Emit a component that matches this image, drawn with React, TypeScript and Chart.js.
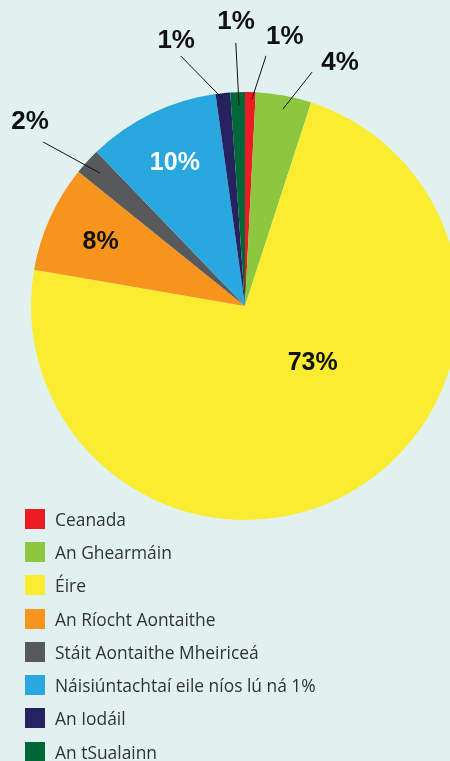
import React, { useEffect, useRef } from "react";
import { Chart, registerables } from "chart.js";

Chart.register(...registerables);

const categories = [
  "Ceanada",
  "An Ghearmáin",
  "Éire",
  "An Ríocht Aontaithe",
  "Stáit Aontaithe Mheiriceá",
  "Náisiúntachtaí eile níos lú ná 1%",
  "An Iodáil",
  "An tSualainn",
];
const shares = [0.8, 4.2, 72.7, 8.1, 2.0, 10.0, 1.1, 1.1];
const valueLabels = ["1%", "4%", "73%", "8%", "2%", "10%", "1%", "1%"];
const sliceColors = ["#ED1C24", "#8DC63F", "#F9EC31", "#F7941D", "#58595B", "#29A8E0", "#262262", "#006838"];
const labelTextColors = ["#111", "#111", "#111", "#111", "#111", "#FFFFFF", "#111", "#111"];

// label placement in polar terms (bearing in degrees clockwise from top, radius as fraction of pie radius)
type Place =
  | { kind: "mid"; r: number }
  | { kind: "fixed"; a: number; r: number }
  | { kind: "leader"; a: number; r: number; fa: number; fr: number; ta: number; tr: number };
const placements: Place[] = [
  { kind: "leader", a: 8.4, r: 1.276, fa: 4.8, fr: 1.173, ta: 1.9, tr: 0.967 },
  { kind: "leader", a: 21.3, r: 1.224, fa: 16.0, fr: 1.137, ta: 10.9, tr: 0.937 },
  { kind: "fixed", a: 129.5, r: 0.41 },
  { kind: "mid", r: 0.74 },
  { kind: "leader", a: 310.7, r: 1.325, fa: 309.1, fr: 1.215, ta: 312.5, tr: 0.919 },
  { kind: "mid", r: 0.75 },
  { kind: "leader", a: 345.5, r: 1.284, fa: 345.6, fr: 1.206, ta: 353.9, tr: 0.973 },
  { kind: "leader", a: 358.2, r: 1.332, fa: 358.0, fr: 1.23, ta: 358.3, tr: 0.94 },
];

const BG = "#E1F1F0";

const labelPlugin = {
  id: "sliceLabels",
  afterDatasetsDraw(chart: any) {
    const ctx = chart.ctx as CanvasRenderingContext2D;
    const meta = chart.getDatasetMeta(0);
    meta.data.forEach((arc: any, i: number) => {
      const { x, y, outerRadius, startAngle, endAngle } = arc.getProps(
        ["x", "y", "outerRadius", "startAngle", "endAngle"],
        true
      );
      const R = outerRadius;
      const pt = (bearingDeg: number, f: number) => {
        const a = ((bearingDeg - 90) * Math.PI) / 180;
        return [x + Math.cos(a) * R * f, y + Math.sin(a) * R * f];
      };
      const p = placements[i];
      let tx = 0, ty = 0;
      ctx.save();
      if (p.kind === "mid") {
        const a = (startAngle + endAngle) / 2;
        tx = x + Math.cos(a) * R * p.r;
        ty = y + Math.sin(a) * R * p.r;
      } else if (p.kind === "fixed") {
        [tx, ty] = pt(p.a, p.r);
      } else {
        [tx, ty] = pt(p.a, p.r);
        const [fx, fy] = pt(p.fa, p.fr);
        const [ex, ey] = pt(p.ta, p.tr);
        ctx.strokeStyle = "#111";
        ctx.lineWidth = 1;
        ctx.beginPath();
        ctx.moveTo(fx, fy);
        ctx.lineTo(ex, ey);
        ctx.stroke();
      }
      const size = p.kind === "leader" ? 26 : 25;
      ctx.font = `bold ${size}px "Liberation Sans", Arial, sans-serif`;
      ctx.fillStyle = labelTextColors[i];
      ctx.textAlign = "center";
      ctx.textBaseline = "middle";
      ctx.fillText(valueLabels[i], tx, ty + 1);
      ctx.restore();
    });
  },
};

export default function App() {
  const ref = useRef<HTMLCanvasElement | null>(null);
  useEffect(() => {
    document.body.style.margin = "0";
    document.body.style.background = BG;
    if (!ref.current) return;
    const chart = new Chart(ref.current, {
      type: "pie",
      data: {
        labels: categories,
        datasets: [
          {
            data: shares,
            backgroundColor: sliceColors,
            borderWidth: 0,
          },
        ],
      },
      options: {
        responsive: false,
        animation: false,
        layout: { padding: { top: 92, left: 31, right: 31, bottom: 241 } },
        plugins: {
          legend: { display: false },
          tooltip: { enabled: false },
        },
      },
      plugins: [labelPlugin],
    });
    return () => chart.destroy();
  }, []);

  return (
    <div
      style={{
        position: "relative",
        width: 450,
        height: 761,
        overflow: "hidden",
        background: BG,
      }}
    >
      <canvas ref={ref} width={490} height={761} style={{ position: "absolute", left: 0, top: 0 }} />
      <div style={{ position: "absolute", left: 25, top: 502 }}>
        {categories.map((c, i) => (
          <div
            key={c}
            style={{
              display: "flex",
              alignItems: "center",
              height: 33.3,
              fontFamily: '"Open Sans", "Noto Sans", sans-serif',
              fontSize: 17.4,
              color: "#333",
              whiteSpace: "nowrap",
            }}
          >
            <span
              style={{
                display: "inline-block",
                width: 20,
                height: 20,
                background: sliceColors[i],
                marginRight: 10,
                flexShrink: 0,
              }}
            />
            {c}
          </div>
        ))}
      </div>
    </div>
  );
}
